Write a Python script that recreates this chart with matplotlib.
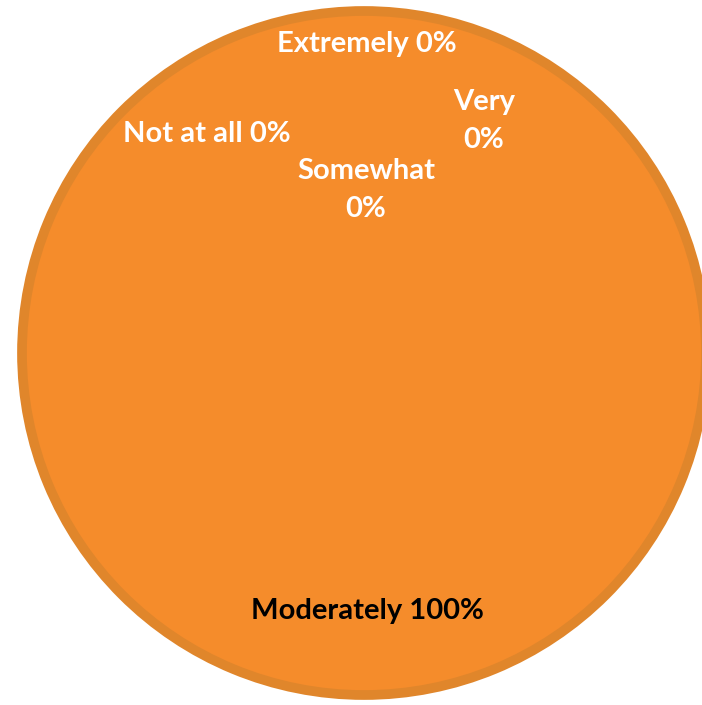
import matplotlib.pyplot as plt

# survey answers and their shares (%)
labels = ["Not at all", "Somewhat", "Moderately", "Very", "Extremely"]
values = [0, 0, 100, 0, 0]

# where each label sits, in pixels from the top-left of the picture
label_pos = [(207, 134), (366, 190), (367, 611), (484, 121), (367, 44)]
label_text = ["{} {}%", "{}\n{}%", "{} {}%", "{}\n{}%", "{} {}%"]
label_color = ["white", "white", "black", "white", "white"]

W, H = 702, 705
cx, cy, R = 364, 353, 347

fig = plt.figure(figsize=(W / 100, H / 100), dpi=100)
ax = fig.add_axes([0, 0, 1, 1])

wedges, _ = ax.pie(values, radius=(R - 5) / R, startangle=90, counterclock=False,
                   colors=["#F58C2B"] * len(values),
                   wedgeprops=dict(edgecolor="#E0862B", linewidth=7))
for w, v in zip(wedges, values):
    if v == 0:
        w.set_visible(False)

ax.set_xlim(-cx / R, (W - cx) / R)
ax.set_ylim(-(H - cy) / R, cy / R)
ax.set_aspect("equal")
ax.axis("off")

def px(x, y):
    return (x - cx) / R, (cy - y) / R

for lab, v, (x, y), fmt, c in zip(labels, values, label_pos, label_text, label_color):
    ax.text(*px(x, y), fmt.format(lab, v), ha="center", va="center",
            fontsize=21, fontweight="bold", color=c, family="Lato",
            linespacing=1.6)

fig.savefig("out.png", dpi=100)
